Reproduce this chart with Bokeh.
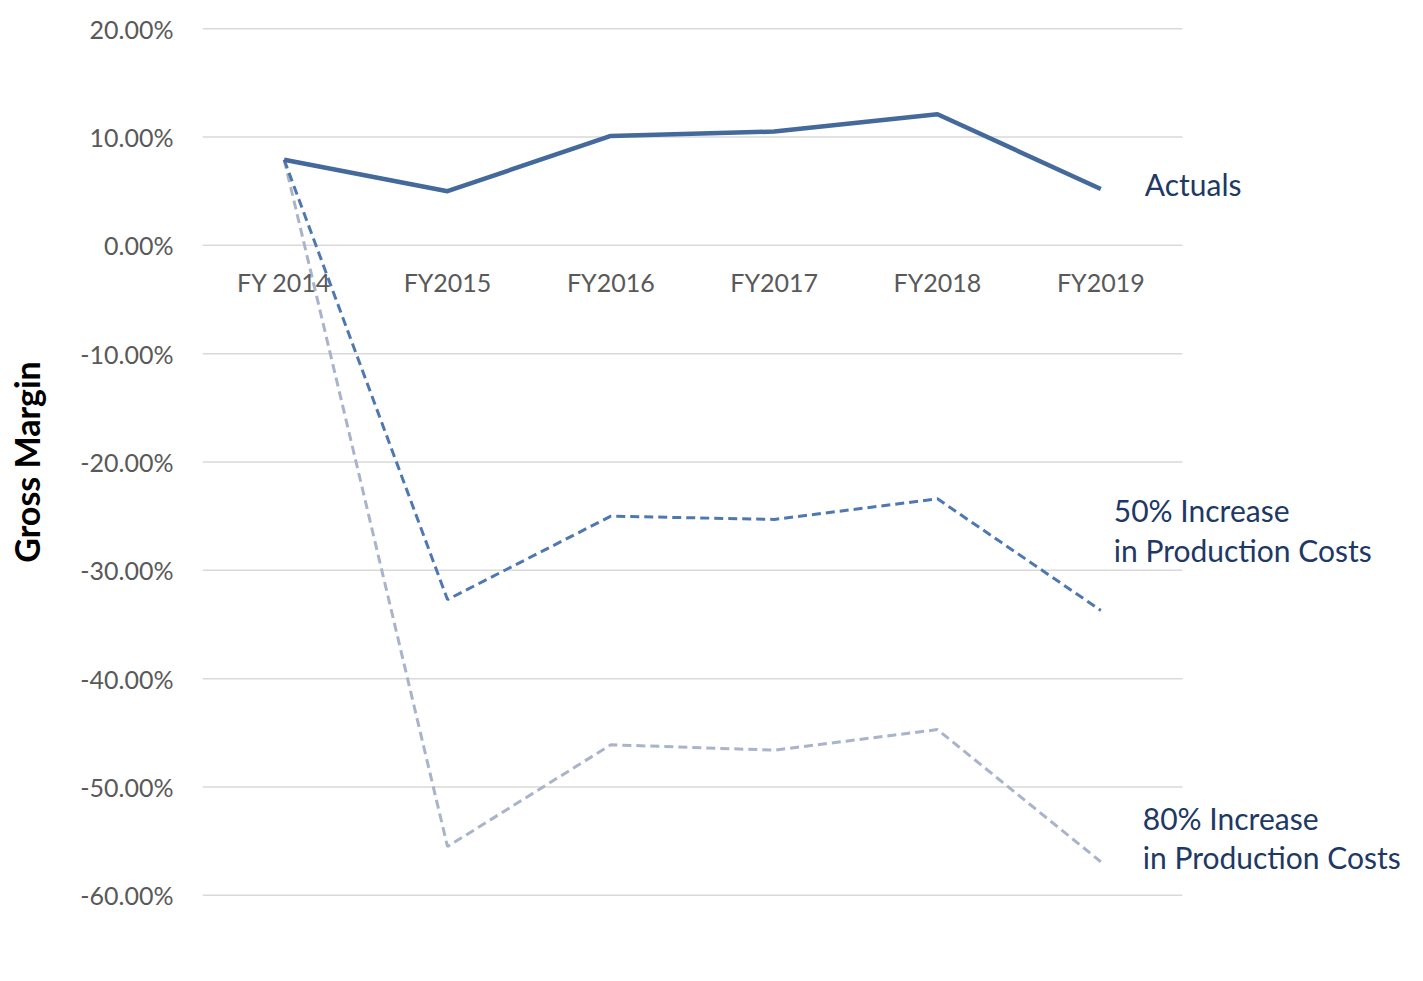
from bokeh.plotting import figure
from bokeh.models import Range1d, FixedTicker, PrintfTickFormatter, Label
from bokeh.embed import file_html
from bokeh.resources import INLINE

categories = ["FY 2014", "FY2015", "FY2016", "FY2017", "FY2018", "FY2019"]
actuals = [7.9, 5.0, 10.1, 10.5, 12.1, 5.2]
increase_50 = [7.9, -32.7, -25.0, -25.3, -23.4, -33.7]
increase_80 = [7.9, -55.5, -46.1, -46.6, -44.7, -56.9]
y_ticks = [20, 10, 0, -10, -20, -30, -40, -50, -60]

FONT = "Lato"
TICK_COLOR = "#595959"
TEXT_COLOR = "#203864"

n = len(categories)
xs = [i + 0.5 for i in range(n)]

p = figure(width=1423, height=981, output_backend="svg", toolbar_location=None,
           x_range=Range1d(0, 1221 / 163.33),
           y_range=Range1d(-60.2, 20.2),
           min_border_left=202, min_border_right=0,
           min_border_top=26, min_border_bottom=84)
p.outline_line_color = None
p.background_fill_color = "white"
p.border_fill_color = "white"

p.xgrid.grid_line_color = None
p.ygrid.grid_line_color = None

# horizontal gridlines spanning the category band only
p.segment(x0=[0] * len(y_ticks), x1=[n] * len(y_ticks), y0=y_ticks, y1=y_ticks,
          line_color="#D9D9D9", line_width=1.5)

p.yaxis.ticker = FixedTicker(ticks=y_ticks)
p.yaxis.formatter = PrintfTickFormatter(format="%.2f%%")
p.yaxis.axis_line_color = None
p.yaxis.major_tick_line_color = None
p.yaxis.minor_tick_line_color = None
p.yaxis.major_label_standoff = 23
p.yaxis.major_label_text_font = FONT
p.yaxis.major_label_text_font_size = "25px"
p.yaxis.major_label_text_color = TICK_COLOR
p.yaxis.axis_label = "Gross Margin"
p.yaxis.axis_label_text_font = FONT
p.yaxis.axis_label_text_font_size = "34px"
p.yaxis.axis_label_text_font_style = "bold"
p.yaxis.axis_label_text_color = "black"
p.yaxis.axis_label_standoff = 30

p.xaxis.fixed_location = 0
p.xaxis.ticker = FixedTicker(ticks=xs)
p.xaxis.major_label_overrides = {x: c for x, c in zip(xs, categories)}
p.xaxis.axis_line_color = None
p.xaxis.major_tick_line_color = None
p.xaxis.minor_tick_line_color = None
p.xaxis.major_label_standoff = 16
p.xaxis.major_label_text_font = FONT
p.xaxis.major_label_text_font_size = "25px"
p.xaxis.major_label_text_color = TICK_COLOR

p.line(xs, increase_80, line_color="#A9B4CB", line_width=3, line_dash="9 5")
p.line(xs, increase_50, line_color="#4F78B0", line_width=3, line_dash="9 5")
p.line(xs, actuals, line_color="#44699B", line_width=4.5, line_join="round")

last_x = xs[-1]
labels = [
    ("Actuals", 44, 5.7),
    ("50% Increase", 13, -24.45),
    ("in Production Costs", 13, -28.1),
    ("80% Increase", 42, -52.9),
    ("in Production Costs", 42, -56.5),
]
for txt, xo, yv in labels:
    p.add_layout(Label(x=last_x, y=yv, x_offset=xo, text=txt, text_font=FONT,
                       text_font_size="30px", text_color=TEXT_COLOR,
                       text_baseline="middle", text_align="left"))

open("out.html", "w").write(file_html(p, INLINE))
